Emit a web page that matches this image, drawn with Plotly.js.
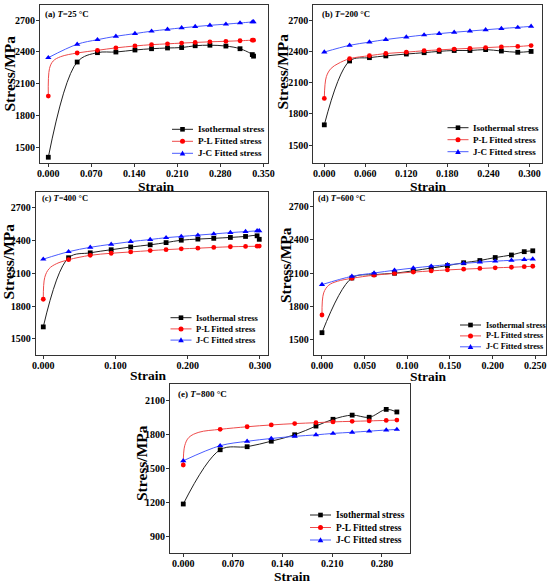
<!DOCTYPE html>
<html><head><meta charset="utf-8">
<script src="https://cdn.plot.ly/plotly-3.0.1.min.js"></script>
<style>html,body{margin:0;padding:0;background:#fff;overflow:hidden}#chart{width:550px;height:586px}</style>
</head><body><div id="chart"></div>
<script>
// ---------- data ----------
const seriesNames = ['Isothermal stress', 'P-L Fitted stress', 'J-C Fitted stress'];
const panelLabels = ['(a) <i>T</i>=25 °C', '(b) <i>T</i>=200 °C', '(c) <i>T</i>=400 °C', '(d) <i>T</i>=600 °C', '(e) <i>T</i>=800 °C'];
const xTitle = 'Strain';
const yTitle = 'Stress/MPa';

const aStrain = [0, 0.047, 0.080, 0.110, 0.141, 0.168, 0.194, 0.217, 0.239, 0.263, 0.289, 0.312, 0.332, 0.334];
const aIso    = [1410, 2305, 2393, 2399, 2418, 2430, 2437, 2441, 2458, 2463, 2455, 2430, 2375, 2360];
const aPL     = [1985, 2390, 2415, 2438, 2456, 2468, 2476, 2483, 2489, 2495, 2500, 2505, 2510, 2510];
const aJC     = [2346, 2472, 2515, 2547, 2572, 2595, 2612, 2626, 2638, 2650, 2661, 2672, 2682, 2683];
// P-L fitted curve read near the origin (between the first two markers)
const aPLnearStrain = [0.002, 0.008, 0.020];
const aPLnear       = [2245, 2315, 2355];

const bStrain = [0, 0.037, 0.066, 0.090, 0.120, 0.146, 0.168, 0.190, 0.213, 0.236, 0.259, 0.283, 0.3025];
const bIso    = [1695, 2311, 2343, 2360, 2378, 2391, 2404, 2412, 2412, 2421, 2407, 2395, 2403];
const bPL     = [1950, 2333, 2362, 2383, 2396, 2410, 2418, 2426, 2433, 2440, 2447, 2451, 2460];
const bJC     = [2397, 2462, 2493, 2518, 2542, 2562, 2575, 2588, 2600, 2612, 2624, 2635, 2645];
const bPLnearStrain = [0.003, 0.010, 0.020];
const bPLnear       = [2160, 2240, 2285];

const cStrain = [0, 0.035, 0.065, 0.094, 0.121, 0.148, 0.170, 0.191, 0.214, 0.236, 0.259, 0.280, 0.296, 0.299];
const cIso    = [1610, 2240, 2285, 2313, 2338, 2358, 2378, 2400, 2410, 2417, 2425, 2434, 2440, 2408];
const cPL     = [1862, 2222, 2262, 2281, 2293, 2305, 2314, 2321, 2327, 2334, 2340, 2343, 2345, 2346];
const cJC     = [2227, 2295, 2335, 2363, 2387, 2406, 2423, 2434, 2446, 2457, 2469, 2478, 2485, 2486];
const cPLnearStrain = [0.002, 0.008, 0.018];
const cPLnear       = [2060, 2140, 2185];

const dStrain = [0, 0.035, 0.061, 0.085, 0.107, 0.128, 0.147, 0.166, 0.185, 0.203, 0.222, 0.237, 0.247];
const dIso    = [1560, 2055, 2085, 2098, 2120, 2145, 2167, 2193, 2213, 2240, 2263, 2293, 2301];
const dPL     = [1720, 2052, 2080, 2096, 2108, 2119, 2128, 2135, 2141, 2147, 2152, 2157, 2161];
const dJC     = [1995, 2070, 2100, 2125, 2145, 2162, 2175, 2187, 2198, 2207, 2215, 2222, 2226];
const dPLnearStrain = [0.002, 0.008, 0.018];
const dPLnear       = [1920, 1990, 2025];

const eStrain = [0, 0.052, 0.090, 0.124, 0.157, 0.187, 0.211, 0.238, 0.262, 0.286, 0.301];
const eIso    = [1184, 1665, 1692, 1741, 1798, 1875, 1935, 1972, 1953, 2023, 2000];
const ePL     = [1530, 1846, 1869, 1885, 1897, 1905, 1912, 1917, 1921, 1925, 1928];
const eJC     = [1567, 1701, 1740, 1765, 1784, 1797, 1810, 1820, 1830, 1840, 1845];
const ePLnearStrain = [0.002, 0.008, 0.022];
const ePLnear       = [1700, 1775, 1820];

const xTickStep = [0.07, 0.06, 0.1, 0.05, 0.07];
const yTickStep = [300, 300, 300, 300, 300];

// ---------- layout / styling ----------
const W = 550, H = 586;
const fx = p => p / W, fy = p => 1 - p / H;
const FONT = 'Liberation Serif, Times New Roman, serif';

const panels = [
  {s:aStrain, v:[aIso,aPL,aJC], ns:aPLnearStrain, nv:aPLnear, frame:{l:40,r:268.3,t:5,b:163.3},  xr:[-0.0135,0.358], yr:[1353,2841],
   lab:{x:42.5,y:14,f:8.8}, leg:{x:172,y:129.3,dy:12.0,f:9.1}, xt:{x:155.7,y:186}, yt:{x:8.5,y:74}},
  {s:bStrain, v:[bIso,bPL,bJC], ns:bPLnearStrain, nv:bPLnear, frame:{l:313.3,r:541.7,t:5,b:163.3}, xr:[-0.0161,0.318], yr:[1324,2851],
   lab:{x:319.5,y:14,f:8.7}, leg:{x:447.5,y:127.7,dy:12.0,f:9.0}, xt:{x:427.5,y:187}, yt:{x:281.5,y:72}},
  {s:cStrain, v:[cIso,cPL,cJC], ns:cPLnearStrain, nv:cPLnear, frame:{l:35.7,r:268.3,t:192,b:355}, xr:[-0.0105,0.3115], yr:[1354,2839],
   lab:{x:40,y:197.5,f:8.5}, leg:{x:170.5,y:317.7,dy:11.2,f:8.5}, xt:{x:148.3,y:375.5}, yt:{x:7.5,y:262}},
  {s:dStrain, v:[dIso,dPL,dJC], ns:dPLnearStrain, nv:dPLnear, frame:{l:313.7,r:546,t:192,b:355}, xr:[-0.0097,0.2625], yr:[1358,2833],
   lab:{x:316,y:197.5,f:8.6}, leg:{x:460,y:325,dy:10.9,f:8.2}, xt:{x:428.3,y:376}, yt:{x:285,y:265}},
  {s:eStrain, v:[eIso,ePL,eJC], ns:ePLnearStrain, nv:ePLnear, frame:{l:170,r:410,t:384,b:553.3}, xr:[-0.0187,0.3195], yr:[747,2248],
   lab:{x:176,y:393.5,f:9.0}, leg:{x:310,y:515,dy:12.5,f:9.4}, xt:{x:291.7,y:576.5}, yt:{x:141,y:463}}
];

const lineColors = ['#222222', '#ee4a4a', '#4a5cff'];
const markColors = ['#000000', '#ff0000', '#0000ff'];
const symbols = ['square', 'circle', 'triangle-up'];

const traces = [];
const layout = {
  width: W, height: H, margin: {l:0, r:0, t:0, b:0},
  paper_bgcolor: '#fff', plot_bgcolor: '#fff',
  showlegend: false, font: {family: FONT, color: '#000'},
  shapes: [], annotations: []
};

panels.forEach((p, i) => {
  const n = i === 0 ? '' : String(i + 1);
  const xa = 'x' + n, ya = 'y' + n;
  p.v.forEach((vals, k) => {
    let lx = p.s, ly = vals;
    if (k === 1) { // P-L curve: include the points read along the steep start
      lx = [p.s[0]].concat(p.ns, p.s.slice(1));
      ly = [vals[0]].concat(p.nv, vals.slice(1));
    }
    traces.push({
      type: 'scatter', mode: 'lines', x: lx, y: ly, name: seriesNames[k],
      xaxis: xa, yaxis: ya, cliponaxis: false, hoverinfo: 'skip',
      line: {color: lineColors[k], width: 1, shape: 'spline', smoothing: 1}
    });
    traces.push({
      type: 'scatter', mode: 'markers', x: p.s, y: vals, name: seriesNames[k],
      xaxis: xa, yaxis: ya, cliponaxis: false,
      marker: {symbol: symbols[k], size: k === 2 ? 5.5 : 4.8, color: markColors[k]}
    });
  });
  const axCommon = {
    showline: true, mirror: true, linecolor: '#333', linewidth: 1,
    ticks: 'outside', ticklen: 3, tickwidth: 1, tickcolor: '#333',
    showgrid: false, zeroline: false,
    tickfont: {family: FONT, size: 10, weight: 'bold', color: '#000'}
  };
  layout['xaxis' + n] = Object.assign({}, axCommon, {
    domain: [fx(p.frame.l), fx(p.frame.r)], range: p.xr, anchor: ya,
    tick0: 0, dtick: xTickStep[i], tickformat: '.3f', ticklabelstandoff: -2
  });
  layout['yaxis' + n] = Object.assign({}, axCommon, {
    domain: [fy(p.frame.b), fy(p.frame.t)], range: p.yr, anchor: xa,
    tick0: 0, dtick: yTickStep[i], ticklabelstandoff: -1
  });
  // axis titles
  layout.annotations.push({
    xref: 'paper', yref: 'paper', x: fx(p.xt.x), y: fy(p.xt.y), xanchor: 'center', yanchor: 'middle',
    text: '<b>' + xTitle + '</b>', showarrow: false, font: {family: FONT, size: 13.5, color: '#000'}
  });
  layout.annotations.push({
    xref: 'paper', yref: 'paper', x: fx(p.yt.x), y: fy(p.yt.y), xanchor: 'center', yanchor: 'middle',
    text: '<b>' + yTitle + '</b>', showarrow: false, textangle: -90, font: {family: FONT, size: 15.5, color: '#000'}
  });
  // panel label
  layout.annotations.push({
    xref: 'paper', yref: 'paper', x: fx(p.lab.x), y: fy(p.lab.y), xanchor: 'left', yanchor: 'middle',
    text: '<b>' + panelLabels[i] + '</b>', showarrow: false,
    font: {family: FONT, size: p.lab.f, color: '#000'}
  });
  // legend built from shapes + text
  for (let k = 0; k < 3; k++) {
    const ry = p.leg.y + k * p.leg.dy;
    const x1 = p.leg.x, x2 = p.leg.x + 21, xm = (x1 + x2) / 2;
    layout.shapes.push({type: 'line', xref: 'paper', yref: 'paper', x0: fx(x1), x1: fx(x2), y0: fy(ry), y1: fy(ry),
      line: {color: lineColors[k], width: 1}});
    const r = 2.3;
    if (k === 0) {
      layout.shapes.push({type: 'rect', xref: 'paper', yref: 'paper', x0: fx(xm - r), x1: fx(xm + r), y0: fy(ry + r), y1: fy(ry - r),
        fillcolor: markColors[k], line: {width: 0}});
    } else if (k === 1) {
      layout.shapes.push({type: 'circle', xref: 'paper', yref: 'paper', x0: fx(xm - r - 0.2), x1: fx(xm + r + 0.2), y0: fy(ry + r + 0.2), y1: fy(ry - r - 0.2),
        fillcolor: markColors[k], line: {width: 0}});
    } else {
      const t = 2.8;
      layout.shapes.push({type: 'path', xref: 'paper', yref: 'paper',
        path: `M${fx(xm - t)},${fy(ry + t * 0.8)} L${fx(xm + t)},${fy(ry + t * 0.8)} L${fx(xm)},${fy(ry - t)} Z`,
        fillcolor: markColors[k], line: {width: 0}});
    }
    layout.annotations.push({
      xref: 'paper', yref: 'paper', x: fx(x2 + 2.5), y: fy(ry), xanchor: 'left', yanchor: 'middle',
      text: '<b>' + seriesNames[k] + '</b>', showarrow: false,
      font: {family: FONT, size: p.leg.f, color: '#000'}
    });
  }
});

Plotly.newPlot('chart', traces, layout, {displayModeBar: false, staticPlot: true});
</script>
</body></html>
